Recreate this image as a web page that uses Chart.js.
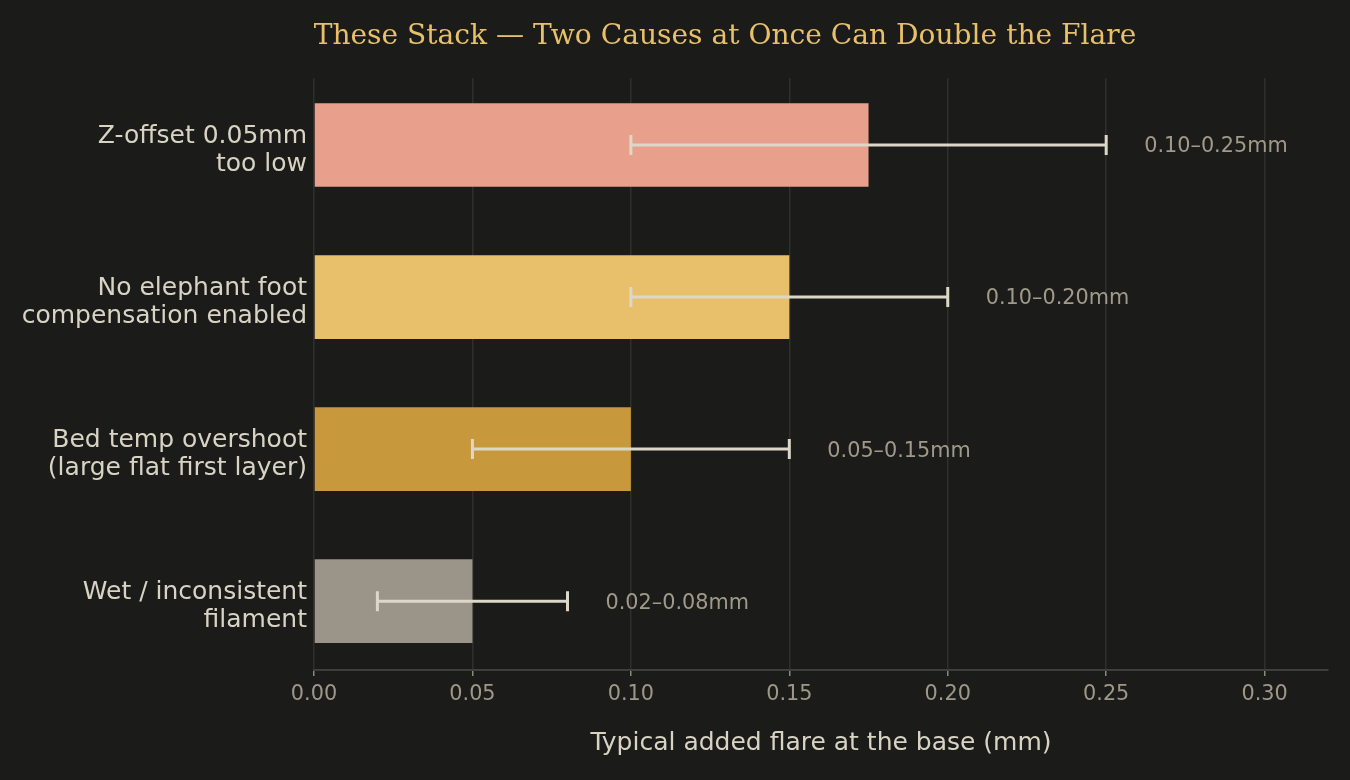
<!DOCTYPE html>
<html>
<head>
<meta charset="utf-8">
<script src="https://cdn.jsdelivr.net/npm/chart.js@4"></script>
<style>
  html, body { margin: 0; padding: 0; background: #1b1b19; }
  #wrap { width: 1350px; height: 780px; }
</style>
</head>
<body>
<div id="wrap"><canvas id="c" width="1350" height="780"></canvas></div>
<script>
// ---- data ----
const categories = [
  ["Z-offset 0.05mm", "too low"],
  ["No elephant foot", "compensation enabled"],
  ["Bed temp overshoot", "(large flat first layer)"],
  ["Wet / inconsistent", "filament"]
];
const typicalFlare = [0.175, 0.15, 0.10, 0.05];
const rangeLow = [0.10, 0.10, 0.05, 0.02];
const rangeHigh = [0.25, 0.20, 0.15, 0.08];
const rangeLabels = ["0.10–0.25mm", "0.10–0.20mm", "0.05–0.15mm", "0.02–0.08mm"];
const barColors = ["#e8a08c", "#e8c06c", "#c8993c", "#9b9488"];
const xTicks = [0, 0.05, 0.10, 0.15, 0.20, 0.25, 0.30];
const titleText = "These Stack — Two Causes at Once Can Double the Flare";
const xAxisTitle = "Typical added flare at the base (mm)";

const errorBars = {
  id: 'errorBars',
  afterDatasetsDraw(chart) {
    const ctx = chart.ctx;
    const xs = chart.scales.x, ys = chart.scales.y;
    ctx.save();
    ctx.strokeStyle = '#dcd7c8';
    ctx.lineWidth = 3;
    ctx.lineCap = 'butt';
    rangeLow.forEach((lo, i) => {
      const x1 = xs.getPixelForValue(lo);
      const x2 = xs.getPixelForValue(rangeHigh[i]);
      const y = ys.getPixelForValue(i);
      ctx.beginPath();
      ctx.moveTo(x1, y); ctx.lineTo(x2, y);
      ctx.moveTo(x1, y - 10); ctx.lineTo(x1, y + 10);
      ctx.moveTo(x2, y - 10); ctx.lineTo(x2, y + 10);
      ctx.stroke();
      ctx.fillStyle = '#a09a8a';
      ctx.font = '20.8px "DejaVu Sans"';
      ctx.textAlign = 'left';
      ctx.textBaseline = 'middle';
      ctx.fillText(rangeLabels[i], x2 + 38, y + 2);
    });
    ctx.restore();
  }
};

const bgAndTitle = {
  id: 'bgAndTitle',
  beforeDraw(chart) {
    const ctx = chart.ctx;
    ctx.save();
    ctx.fillStyle = '#1b1b19';
    ctx.fillRect(0, 0, chart.width, chart.height);
    ctx.restore();
  },
  afterDraw(chart) {
    const ctx = chart.ctx;
    ctx.save();
    ctx.fillStyle = '#e8c06a';
    ctx.font = '28.1px "DejaVu Serif"';
    ctx.textAlign = 'center';
    ctx.textBaseline = 'middle';
    ctx.fillText(titleText, 725, 37);
    ctx.restore();
  }
};

new Chart(document.getElementById('c'), {
  type: 'bar',
  data: {
    datasets: [{
      data: typicalFlare.map((v, i) => ({ x: v, y: i })),
      backgroundColor: barColors,
      borderWidth: 0,
      barPercentage: 0.55,
      categoryPercentage: 1.0
    }]
  },
  options: {
    indexAxis: 'y',
    responsive: false,
    animation: false,
    devicePixelRatio: 1,
    layout: { padding: { left: 0, right: 22, top: 78, bottom: 0 } },
    plugins: {
      legend: { display: false },
      tooltip: { enabled: false },
      title: { display: false }
    },
    scales: {
      x: {
        type: 'linear',
        position: 'bottom',
        min: 0,
        max: 0.32,
        afterBuildTicks: (s) => { s.ticks = xTicks.map(v => ({ value: v })); },
        afterFit: (s) => { s.height = 110; },
        ticks: {
          color: '#9e9888',
          font: { family: '"DejaVu Sans"', size: 20.8 },
          padding: 6,
          callback: (v) => Number(v).toFixed(2)
        },
        grid: {
          color: '#2f2f2c',
          lineWidth: 1.5,
          drawTicks: true,
          tickLength: 6,
          tickColor: '#8e887a',
          tickWidth: 1.5
        },
        border: { display: true, color: '#3e3e3b', width: 2 },
        title: {
          display: true,
          text: xAxisTitle,
          color: '#d8d4c4',
          font: { family: '"DejaVu Sans"', size: 25 },
          padding: { top: 0, bottom: 22 }
        }
      },
      y: {
        type: 'linear',
        reverse: true,
        offset: false,
        min: -0.441,
        max: 3.453,
        afterBuildTicks: (s) => { s.ticks = categories.map((_, i) => ({ value: i })); },
        afterFit: (s) => { s.width = 314; },
        ticks: {
          color: '#d8d4c4',
          font: { family: '"DejaVu Sans"', size: 25, lineHeight: 1.12 },
          padding: 7,
          labelOffset: 5,
          callback: (v) => categories[v]
        },
        grid: { display: false, drawTicks: false, offset: false },
        border: { display: false }
      }
    }
  },
  plugins: [bgAndTitle, errorBars]
});
</script>
</body>
</html>
